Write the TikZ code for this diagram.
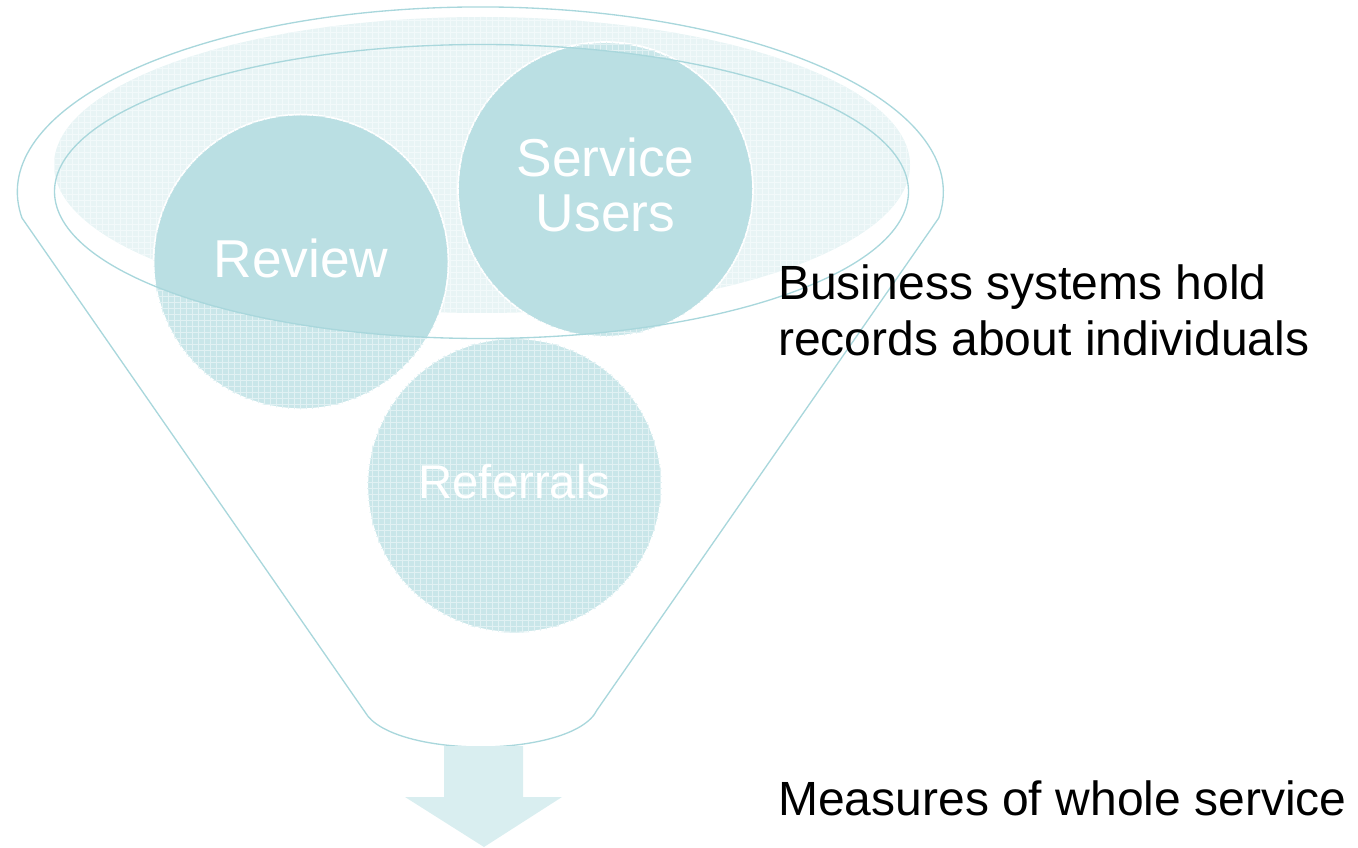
\documentclass[tikz,border=0pt]{standalone}
\usepackage{fontspec}
\setmainfont{Liberation Sans}
\usetikzlibrary{patterns.meta}
\definecolor{lineC}{HTML}{A9D7DC}
\definecolor{solidC}{HTML}{BADFE3}
\definecolor{hatchC}{HTML}{C9E6E9}
\definecolor{glassC}{HTML}{E8F4F5}
\definecolor{arrowC}{HTML}{D9EEF0}
\tikzset{
  funnelline/.style={draw=lineC, line width=1pt},
  gridtex/.style={postaction={pattern={Lines[distance=4.5pt, angle=0, line width=0.45pt]}, pattern color=white!45!#1},
                  postaction={pattern={Lines[distance=4.5pt, angle=90, line width=0.45pt]}, pattern color=white!45!#1}},
  ball/.style={circle, minimum size=221pt, inner sep=0pt, fill=hatchC, gridtex=hatchC, draw=white, line width=1.5pt},
  balltext/.style={text=white, inner sep=0pt, anchor=base},
  sidetext/.style={text=black, inner sep=0pt, anchor=base west, font=\fontsize{36}{41}\selectfont},
}
\begin{document}
\begin{tikzpicture}[x=0.75pt,y=-0.75pt]
\useasboundingbox (0,0) rectangle (1358,848);
% funnel outline
\coordinate (lk) at (22,218);
\coordinate (rk) at (938,218);
\coordinate (lb) at (365,712);
\coordinate (rb) at (597,710);
\coordinate (bot) at (481,747);
\draw[funnelline] (lk) arc[start angle=171.9, end angle=368.1, x radius=463, y radius=185]
  -- (rb) .. controls (585,735) and (530,747) .. (bot)
  .. controls (430,747) and (378,735) .. (lb) -- cycle;
% glass fill ellipse
\fill[glassC, gridtex=glassC] (482,165) ellipse [x radius=428, y radius=148];
% balls (hatched look)
\node[ball] (rev) at (301,262) {};
\node[ball] (su) at (605.5,189.5) {};
\node[ball] (ref) at (514.5,485.5) {};
% solid parts inside the inner ellipse
\begin{scope}
  \clip (481.5,191.5) ellipse [x radius=427, y radius=147];
  \fill[solidC] (rev.center) circle [radius=146.5];
  \fill[solidC] (su.center) circle [radius=146.5];
\end{scope}
% inner ellipse outline
\draw[funnelline] (481.5,191.5) ellipse [x radius=427, y radius=147];
% labels
\node[balltext, font=\fontsize{40}{44}\selectfont] (revt) at (301,278) {Review};
\node[balltext, font=\fontsize{40}{41.5}\selectfont, align=center] (sut) at (605.5,232) {Service\\Users};
\node[balltext, font=\fontsize{35.5}{40}\selectfont] (reft) at (514.5,498) {Referrals};
% arrow
\fill[arrowC] (444,746) -- (523,746) -- (523,797) -- (562,797) -- (484,847) -- (405,797) -- (444,797) -- cycle;
% side texts
\node[sidetext] (t1) at (778,300) {Business systems hold};
\node[sidetext] (t2) at (778,355) {records about individuals};
\node[sidetext] (t3) at (778,815) {Measures of whole service};
\end{tikzpicture}
\end{document}
